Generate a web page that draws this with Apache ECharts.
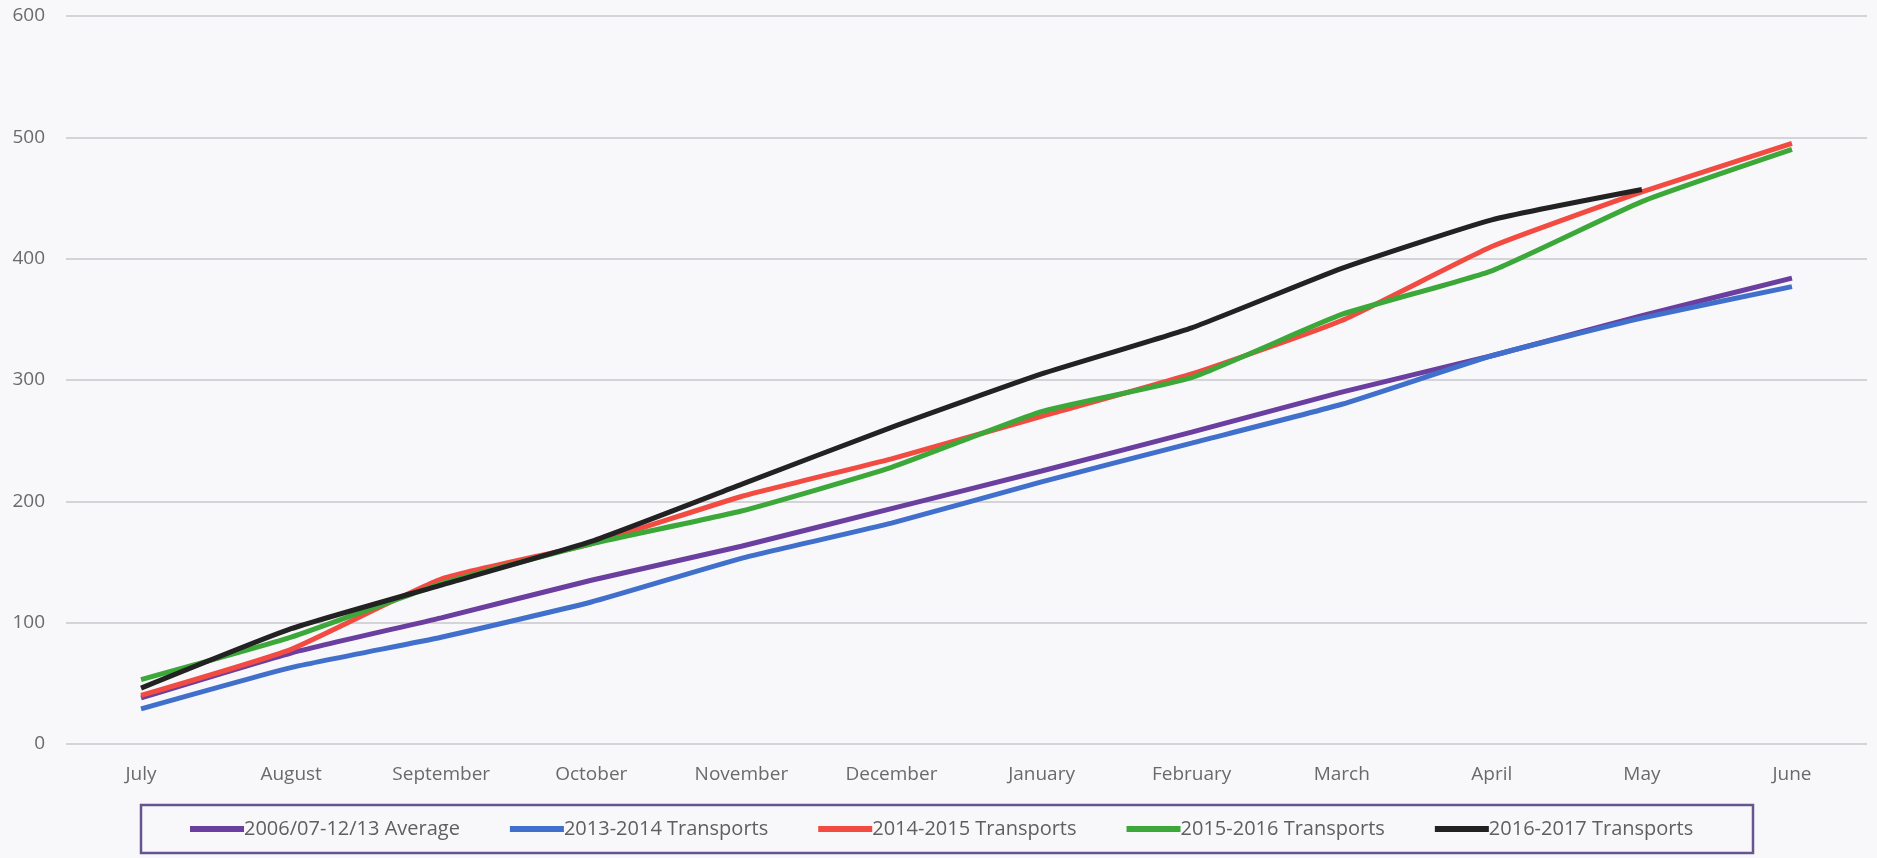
<!DOCTYPE html>
<html>
<head>
<meta charset="utf-8">
<script src="https://cdn.jsdelivr.net/npm/echarts@6/dist/echarts.min.js"></script>
<style>
  html, body { margin: 0; padding: 0; background: #f8f8fa; }
  #chart { width: 1877px; height: 858px; }
</style>
</head>
<body>
<div id="chart"></div>
<script>
const months = ['July', 'August', 'September', 'October', 'November', 'December',
  'January', 'February', 'March', 'April', 'May', 'June']

const average0613 = [38, 75, 104, 135, 163, 194, 225, 257, 290, 320, 353, 384]
const transports1314 = [29, 63, 88, 117, 153, 182, 216, 248, 280, 320, 351, 377]
const transports1415 = [40, 78, 136, 165, 204, 235, 270, 305, 349, 410, 455, 495]
const transports1516 = [53, 88, 132, 165, 192, 228, 274, 302, 354, 390, 447, 490]
const transports1617 = [46, 95, 131, 167, 214, 261, 305, 343, 392, 432, 457, null]

const yTicks = [0, 100, 200, 300, 400, 500, 600]

const chart = echarts.init(document.getElementById('chart'))

const font = '"Open Sans", sans-serif'

function line(name, data, color) {
  return {
    name,
    type: 'line',
    data,
    smooth: 0.15,
    symbol: 'none',
    lineStyle: { width: 5, color },
    itemStyle: { color },
  }
}

chart.setOption({
  backgroundColor: '#f8f8fa',
  animation: false,
  grid: { left: 66, right: 10, top: 16, bottom: 114 },
  xAxis: {
    type: 'category',
    data: months,
    axisLine: { show: false },
    axisTick: { show: false },
    axisLabel: { color: '#6a6a6a', fontSize: 19, fontFamily: font, margin: 21 },
  },
  yAxis: {
    type: 'value',
    min: yTicks[0],
    max: yTicks[yTicks.length - 1],
    interval: 100,
    axisLabel: { color: '#6a6a6a', fontSize: 19, fontFamily: font, margin: 21 },
    splitLine: { lineStyle: { color: '#d4d4d8', width: 2 } },
  },
  legend: {
    left: 185,
    top: 814,
    itemWidth: 54,
    itemHeight: 6,
    itemGap: 50,
    icon: 'rect',
    textStyle: { color: '#5f5f5f', fontSize: 20, fontFamily: font, padding: [0, 0, 0, -5] },
  },
  graphic: [{
    type: 'rect',
    shape: { x: 141, y: 805, width: 1612, height: 48 },
    style: { fill: 'none', stroke: '#66558f', lineWidth: 2.5 },
  }],
  series: [
    line('2006/07-12/13 Average', average0613, '#6b3fa0'),
    line('2013-2014 Transports', transports1314, '#4170cc'),
    line('2014-2015 Transports', transports1415, '#f24b42'),
    line('2015-2016 Transports', transports1516, '#3ca83a'),
    line('2016-2017 Transports', transports1617, '#222222'),
  ],
})
</script>
</body>
</html>
